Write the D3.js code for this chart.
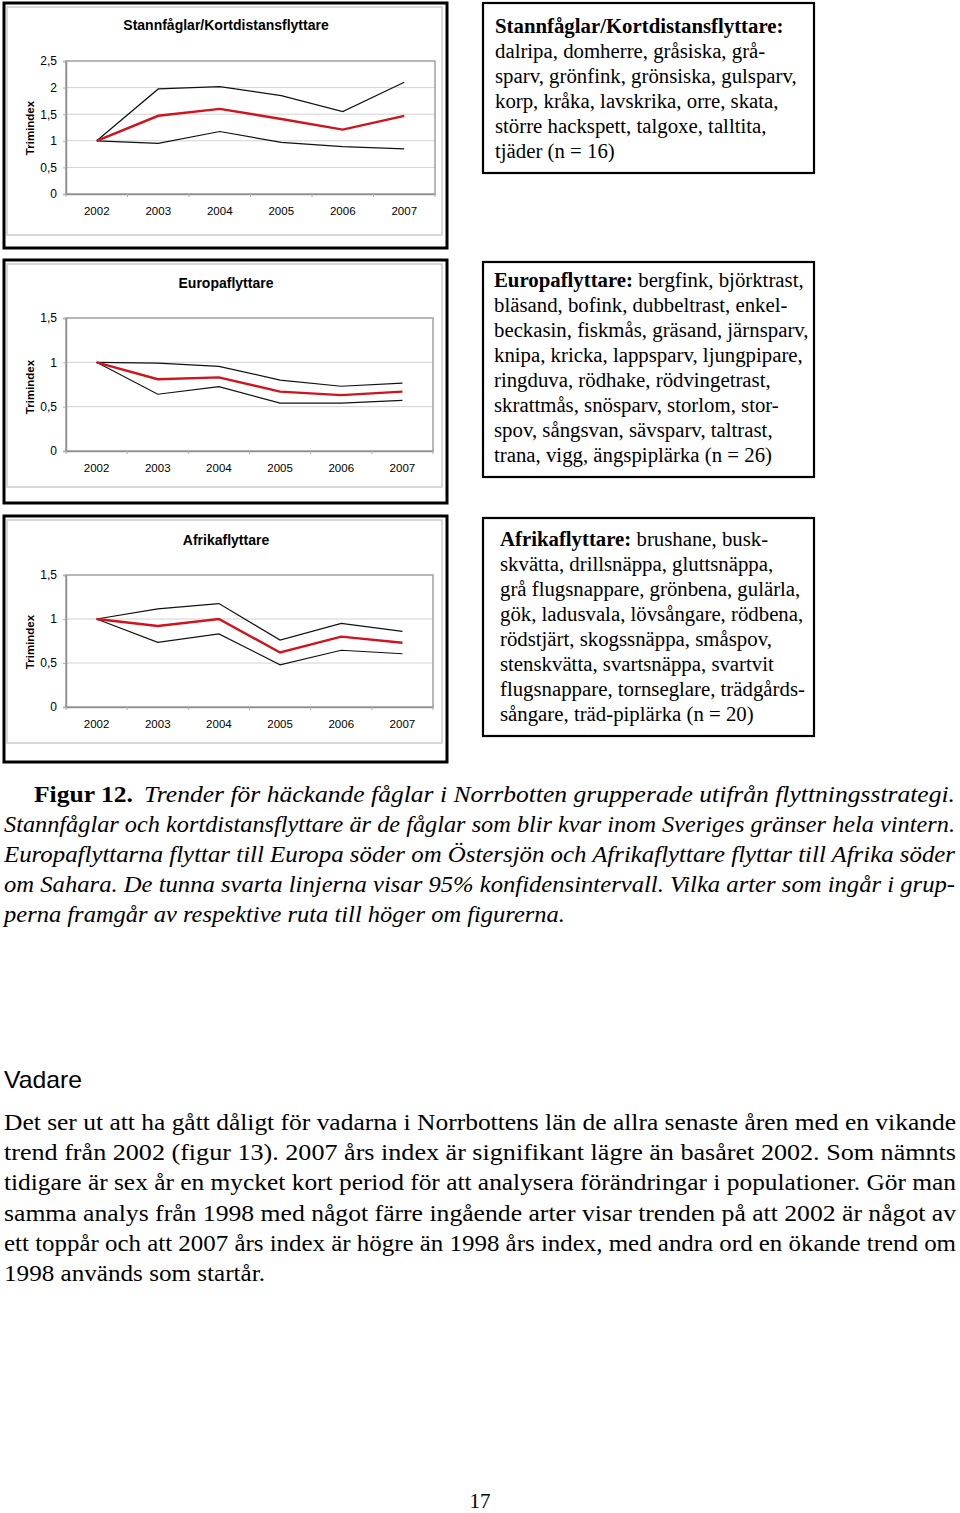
<!DOCTYPE html>
<html><head><meta charset="utf-8">
<script src="https://cdn.jsdelivr.net/npm/d3@7"></script>
<style>body{margin:0;background:#fff}svg{display:block}</style>
</head><body>
<script>
// ---------- DATA ----------
const years = ["2002","2003","2004","2005","2006","2007"];
const stannMean  = [1, 1.47, 1.60, 1.41, 1.21, 1.47];
const stannUpper = [1, 1.975, 2.02, 1.85, 1.55, 2.10];
const stannLower = [1, 0.95, 1.175, 0.97, 0.89, 0.85];
const stannTicks = [0, 0.5, 1, 1.5, 2, 2.5];

const europaMean  = [1, 0.81, 0.83, 0.67, 0.63, 0.67];
const europaUpper = [1, 0.99, 0.955, 0.80, 0.73, 0.765];
const europaLower = [1, 0.64, 0.725, 0.54, 0.54, 0.57];
const europaTicks = [0, 0.5, 1, 1.5];

const afrikaMean  = [1, 0.92, 1.0, 0.62, 0.80, 0.73];
const afrikaUpper = [1, 1.115, 1.175, 0.76, 0.95, 0.86];
const afrikaLower = [1, 0.735, 0.83, 0.48, 0.645, 0.605];
const afrikaTicks = [0, 0.5, 1, 1.5];

const chartTitles = ["Stannfåglar/Kortdistansflyttare", "Europaflyttare", "Afrikaflyttare"];
const yLabel = "Trimindex";

const box1Lines = [
  [["Stannfåglar/Kortdistansflyttare:", true]],
  [["dalripa, domherre, gråsiska, grå-", false]],
  [["sparv, grönfink, grönsiska, gulsparv,", false]],
  [["korp, kråka, lavskrika, orre, skata,", false]],
  [["större hackspett, talgoxe, talltita,", false]],
  [["tjäder (n = 16)", false]]
];
const box2Lines = [
  [["Europaflyttare:", true], [" bergfink, björktrast,", false]],
  [["bläsand, bofink, dubbeltrast, enkel-", false]],
  [["beckasin, fiskmås, gräsand, järnsparv,", false]],
  [["knipa, kricka, lappsparv, ljungpipare,", false]],
  [["ringduva, rödhake, rödvingetrast,", false]],
  [["skrattmås, snösparv, storlom, stor-", false]],
  [["spov, sångsvan, sävsparv, taltrast,", false]],
  [["trana, vigg, ängspiplärka (n = 26)", false]]
];
const box3Lines = [
  [["Afrikaflyttare:", true], [" brushane, busk-", false]],
  [["skvätta, drillsnäppa, gluttsnäppa,", false]],
  [["grå flugsnappare, grönbena, gulärla,", false]],
  [["gök, ladusvala, lövsångare, rödbena,", false]],
  [["rödstjärt, skogssnäppa, småspov,", false]],
  [["stenskvätta, svartsnäppa, svartvit", false]],
  [["flugsnappare, tornseglare, trädgårds-", false]],
  [["sångare, träd-piplärka (n = 20)", false]]
];

const captionBold = "Figur 12.";
const captionLines = [
  "Trender för häckande fåglar i Norrbotten grupperade utifrån flyttningsstrategi.",
  "Stannfåglar och kortdistansflyttare är de fåglar som blir kvar inom Sveriges gränser hela vintern.",
  "Europaflyttarna flyttar till Europa söder om Östersjön och Afrikaflyttare flyttar till Afrika söder",
  "om Sahara. De tunna svarta linjerna visar 95% konfidensintervall. Vilka arter som ingår i grup-",
  "perna framgår av respektive ruta till höger om figurerna."
];
const heading = "Vadare";
const bodyLines = [
  "Det ser ut att ha gått dåligt för vadarna i Norrbottens län de allra senaste åren med en vikande",
  "trend från 2002 (figur 13). 2007 års index är signifikant lägre än basåret 2002. Som nämnts",
  "tidigare är sex år en mycket kort period för att analysera förändringar i populationer. Gör man",
  "samma analys från 1998 med något färre ingående arter visar trenden på att 2002 är något av",
  "ett toppår och att 2007 års index är högre än 1998 års index, med andra ord en ökande trend om",
  "1998 används som startår."
];
const pageNumber = "17";

// ---------- DRAW ----------
const W = 960, H = 1513;
const svg = d3.select("body").append("svg").attr("width", W).attr("height", H);
svg.append("rect").attr("width", W).attr("height", H).attr("fill", "#fff");

const SANS = "'Liberation Sans', Arial, sans-serif";
const SERIF = "'Liberation Serif', 'Times New Roman', serif";

const charts = [
  {title: chartTitles[0], mean: stannMean, upper: stannUpper, lower: stannLower, ticks: stannTicks,
   outer: [4, 3, 447, 248], inner: [7, 7, 442, 235], plot: [66, 61, 435, 194], titleY: 30, ylabY: 128},
  {title: chartTitles[1], mean: europaMean, upper: europaUpper, lower: europaLower, ticks: europaTicks,
   outer: [4, 260, 447, 503], inner: [7, 264, 442, 487], plot: [66, 318, 433, 451], titleY: 288, ylabY: 387},
  {title: chartTitles[2], mean: afrikaMean, upper: afrikaUpper, lower: afrikaLower, ticks: afrikaTicks,
   outer: [4, 516, 447, 762], inner: [7, 520, 442, 743], plot: [66, 575, 433, 707], titleY: 545, ylabY: 642}
];

charts.forEach(c => {
  const g = svg.append("g");
  g.append("rect").attr("x", c.outer[0]).attr("y", c.outer[1])
    .attr("width", c.outer[2] - c.outer[0]).attr("height", c.outer[3] - c.outer[1])
    .attr("fill", "#fff").attr("stroke", "#000").attr("stroke-width", 3);
  g.append("rect").attr("x", c.inner[0]).attr("y", c.inner[1])
    .attr("width", c.inner[2] - c.inner[0]).attr("height", c.inner[3] - c.inner[1])
    .attr("fill", "none").attr("stroke", "#cccccc").attr("stroke-width", 1.5);

  const [x0, y0, x1, y1] = c.plot;
  const x = d3.scaleBand().domain(years).range([x0, x1]).padding(0);
  const y = d3.scaleLinear().domain([0, d3.max(c.ticks)]).range([y1, y0]);

  // gridlines
  g.append("g").selectAll("line").data(c.ticks.filter(t => t > 0 && t < d3.max(c.ticks))).join("line")
    .attr("x1", x0).attr("x2", x1).attr("y1", d => y(d)).attr("y2", d => y(d))
    .attr("stroke", "#d2d2d2").attr("stroke-width", 1);
  // plot border
  g.append("rect").attr("x", x0).attr("y", y0).attr("width", x1 - x0).attr("height", y1 - y0)
    .attr("fill", "none").attr("stroke", "#a0a0a0").attr("stroke-width", 1.5);

  // y axis
  const ya = g.append("g").attr("transform", `translate(${x0},0)`)
    .call(d3.axisLeft(y).tickValues(c.ticks).tickSize(3).tickPadding(6)
      .tickFormat(d => d3.format("")(d).replace(".", ",")));
  ya.select(".domain").attr("stroke", "#909090").attr("stroke-width", 1.5);
  ya.selectAll(".tick line").attr("stroke", "#b0b0b0");
  ya.selectAll("text").attr("font-family", SANS).attr("font-size", 12).attr("fill", "#000");

  // x axis
  const xa = g.append("g").attr("transform", `translate(0,${y1})`)
    .call(d3.axisBottom(x).tickSize(0).tickPadding(13));
  xa.select(".domain").attr("stroke", "#909090").attr("stroke-width", 1.5);
  xa.selectAll("text").attr("font-family", SANS).attr("font-size", 11.5).attr("fill", "#000");
  // boundary tick marks
  const bounds = years.map(d => x(d)).concat([x1]);
  g.append("g").selectAll("line").data(bounds).join("line")
    .attr("x1", d => d).attr("x2", d => d).attr("y1", y1).attr("y2", y1 + 3)
    .attr("stroke", "#b0b0b0");

  const line = d3.line().x((d, i) => x(years[i]) + x.bandwidth() / 2).y(d => y(d));
  [c.upper, c.lower].forEach(s => g.append("path").attr("d", line(s))
    .attr("fill", "none").attr("stroke", "#111").attr("stroke-width", 1.2));
  g.append("path").attr("d", line(c.mean)).attr("fill", "none")
    .attr("stroke", "#d0141c").attr("stroke-width", 2.4);

  g.append("text").attr("x", 226).attr("y", c.titleY).attr("text-anchor", "middle")
    .attr("font-family", SANS).attr("font-weight", "bold").attr("font-size", 14).text(c.title);
  g.append("text").attr("transform", `translate(34,${c.ylabY}) rotate(-90)`).attr("text-anchor", "middle")
    .attr("font-family", SANS).attr("font-weight", "bold").attr("font-size", 11.5).text(yLabel);
});

// text boxes
const boxes = [
  {lines: box1Lines, rect: [483, 3, 814, 173], tx: 495, by: 33},
  {lines: box2Lines, rect: [483, 262, 814, 477], tx: 494, by: 287},
  {lines: box3Lines, rect: [483, 518, 814, 736], tx: 500, by: 546}
];
boxes.forEach(b => {
  svg.append("rect").attr("x", b.rect[0]).attr("y", b.rect[1])
    .attr("width", b.rect[2] - b.rect[0]).attr("height", b.rect[3] - b.rect[1])
    .attr("fill", "#fff").attr("stroke", "#000").attr("stroke-width", 2.2);
  b.lines.forEach((ln, i) => {
    const t = svg.append("text").attr("x", b.tx).attr("y", b.by + i * 25)
      .attr("font-family", SERIF).attr("font-size", 20.8).attr("fill", "#000")
      .attr("xml:space", "preserve");
    ln.forEach(([s, bold]) => t.append("tspan").attr("font-weight", bold ? "bold" : "normal").text(s));
  });
});

// caption
svg.append("text").attr("x", 34).attr("y", 802).attr("font-family", SERIF).attr("font-weight", "bold")
  .attr("font-size", 24).attr("textLength", 99).attr("lengthAdjust", "spacingAndGlyphs").text(captionBold);
const capX = [[144, 955], [4, 955], [4, 955], [4, 955], [4, 565]];
captionLines.forEach((s, i) => {
  svg.append("text").attr("x", capX[i][0]).attr("y", 802 + i * 30).attr("font-family", SERIF)
    .attr("font-style", "italic").attr("font-size", 24)
    .attr("textLength", capX[i][1] - capX[i][0]).attr("lengthAdjust", "spacingAndGlyphs").text(s);
});

// heading & body
svg.append("text").attr("x", 4).attr("y", 1088).attr("font-family", SANS).attr("font-size", 24)
  .attr("textLength", 78).attr("lengthAdjust", "spacingAndGlyphs").text(heading);
bodyLines.forEach((s, i) => {
  const last = i === bodyLines.length - 1;
  svg.append("text").attr("x", 4).attr("y", 1130 + i * 30.2).attr("font-family", SERIF)
    .attr("font-size", 24).attr("textLength", last ? 261 : 952)
    .attr("lengthAdjust", "spacingAndGlyphs").text(s);
});

svg.append("text").attr("x", 480).attr("y", 1508).attr("text-anchor", "middle")
  .attr("font-family", SERIF).attr("font-size", 21).text(pageNumber);
</script>
</body></html>
